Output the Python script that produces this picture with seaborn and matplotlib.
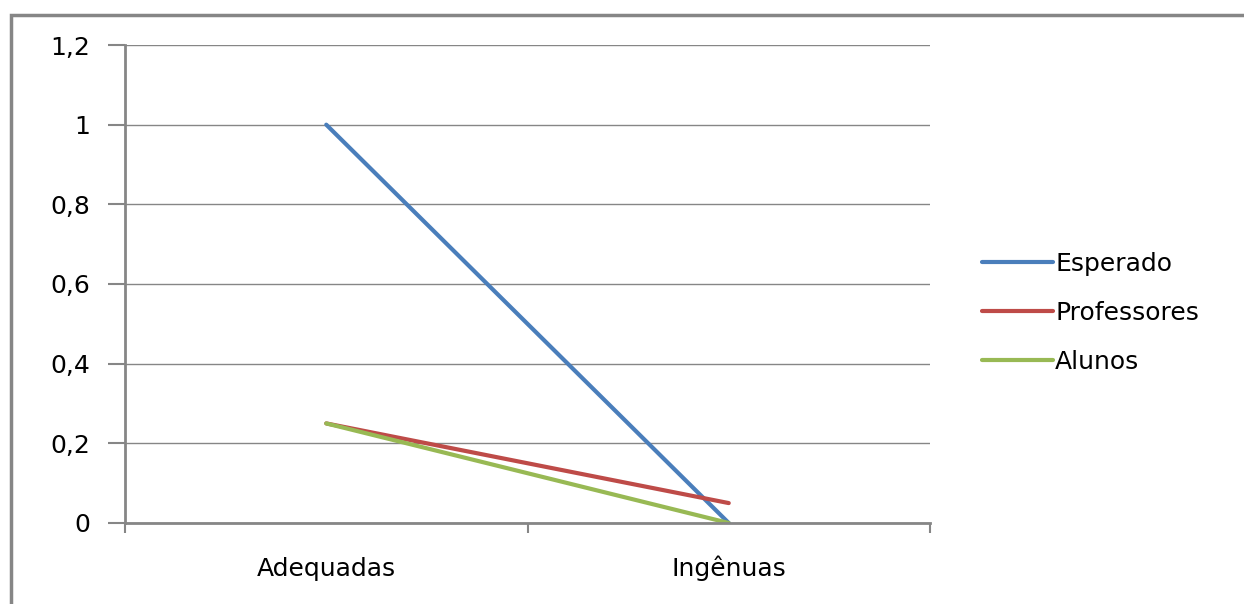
import matplotlib
matplotlib.use("Agg")
import matplotlib.pyplot as plt
import seaborn as sns
import pandas as pd
from matplotlib.patches import Rectangle
from matplotlib.lines import Line2D

categories = ["Adequadas", "Ingênuas"]
esperado = [1.0, 0.0]
professores = [0.25, 0.05]
alunos = [0.25, 0.0]
series_names = ["Esperado", "Professores", "Alunos"]
colors = ["#4A7EBB", "#BE4B48", "#98B954"]
yticks = [0, 0.2, 0.4, 0.6, 0.8, 1.0, 1.2]
ytick_labels = ["0", "0,2", "0,4", "0,6", "0,8", "1", "1,2"]

sns.set_theme(style="white")
plt.rcParams['font.family'] = ['DejaVu Sans']
plt.rcParams['text.color'] = 'black'

rows = []
for name, vals in zip(series_names, [esperado, professores, alunos]):
    for i, (c, v) in enumerate(zip(categories, vals)):
        rows.append({"pos": i + 0.5, "cat": c, "value": v, "serie": name})
df = pd.DataFrame(rows)

FS = 18
fig = plt.figure(figsize=(12.44, 6.04), dpi=100)
ax = fig.add_axes([125/1244, 1-523/604, (930-125)/1244, (523-45)/604])

sns.lineplot(data=df, x="pos", y="value", hue="serie", palette=colors,
             hue_order=series_names, linewidth=3, ax=ax, legend=False)

ax.set_xlim(0, 2)
ax.set_ylim(0, 1.2)
ax.set_yticks(yticks)
ax.set_yticklabels(ytick_labels)
ax.set_xticks([0, 1, 2])
ax.set_xticklabels([])
ax.set_xticks([0.5, 1.5], minor=True)
ax.set_xticklabels(categories, minor=True, va='baseline')
ax.tick_params(axis='x', which='minor', length=0, pad=38, labelsize=FS, colors='black')
ax.tick_params(axis='x', which='major', length=7, width=1.5, color='#868686', direction='out', bottom=True)
ax.tick_params(axis='y', length=12, width=1.5, color='#868686', direction='out', left=True,
               labelsize=FS, pad=13, labelcolor='black')
ax.set_xlabel("")
ax.set_ylabel("")
ax.grid(axis='y', color='#868686', linewidth=1)
ax.grid(axis='x', visible=False)
for s in ['top', 'right']:
    ax.spines[s].set_visible(False)
for s in ['left', 'bottom']:
    ax.spines[s].set_color('#868686')
    ax.spines[s].set_linewidth(2)
ax.set_axisbelow(True)

handles = [Line2D([0], [0], color=c, lw=3) for c in colors]
leg = fig.legend(handles, series_names, loc='center left', bbox_to_anchor=(960/1244, 1-313/604),
                 frameon=False, fontsize=FS, handlelength=2.8, handletextpad=0.1, labelspacing=1.0)
for t in leg.get_texts():
    t.set_color('black')

fig.patches.append(Rectangle((11/1244, -0.1), 1.2, 1 - 15/604 + 0.1, transform=fig.transFigure,
                             fill=False, edgecolor='#868686', linewidth=2.5))

fig.savefig("out.png", dpi=100)
